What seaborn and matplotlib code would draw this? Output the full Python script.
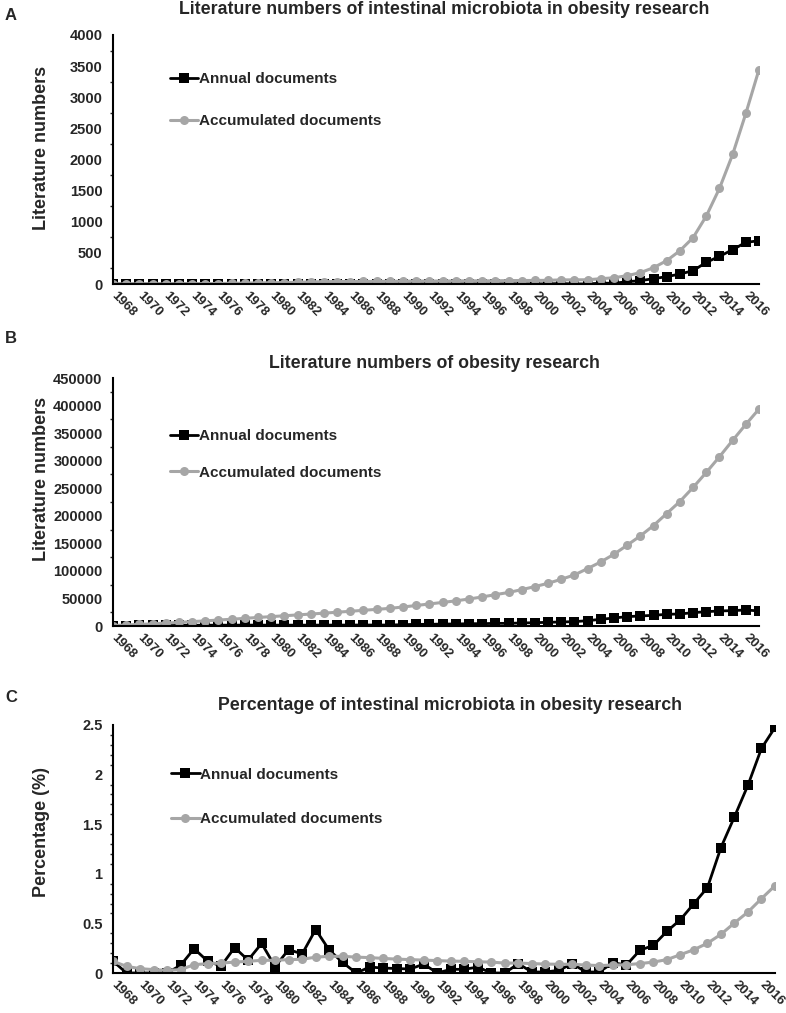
import numpy as np
import pandas as pd
import seaborn as sns
from matplotlib import pyplot as plt
from matplotlib.ticker import MultipleLocator, FuncFormatter

sns.set_style('white')
plt.rcParams['font.family'] = ['Liberation Sans', 'DejaVu Sans']
plt.rcParams['font.weight'] = 'bold'

# 50 categories; the axis labels every second year, the last point has no label
years = list(range(1968, 2018))

# panel A: intestinal microbiota in obesity research
micro_annual = [1, 0, 0, 0, 0, 1, 3, 2, 1, 4, 2, 5, 1, 4, 3, 7, 4, 2, 0, 1,
                1, 1, 1, 3, 0, 1, 1, 2, 0, 0, 4, 1, 1, 2, 7, 1, 1, 13, 12, 37,
                53, 86, 118, 160, 214, 348, 444, 551, 669, 695]
micro_accum = [1, 1, 1, 1, 1, 2, 5, 7, 8, 12, 14, 19, 20, 24, 27, 34, 38, 40, 40, 41,
               42, 43, 44, 47, 47, 48, 49, 51, 51, 51, 55, 56, 57, 59, 66, 67, 68, 85, 100, 134,
               182, 262, 375, 535, 744, 1091, 1535, 2081, 2739, 3445]

# panel B: obesity research
obes_annual = [900, 900, 1100, 1100, 1200, 1300, 1400, 1400, 1500, 1500, 1600, 1600, 1500,
               1600, 1500, 1600, 1600, 1700, 1700, 1800, 1700, 1800, 2400, 3000, 3000, 3600,
               3600, 4200, 4200, 4800, 4800, 5500, 6000, 6700, 7300, 7900, 9700, 12100, 14500,
               17000, 18200, 19400, 21200, 21800, 24200, 26000, 27300, 27900, 29100, 27300]
obes_accum = [900, 1800, 2900, 4000, 5200, 6500, 7900, 9300, 10800, 12300, 13900, 15500, 17000,
              18600, 20100, 21700, 23300, 25000, 26700, 28500, 30200, 32000, 34500, 37200, 40000,
              42800, 45600, 49000, 52700, 56900, 60800, 66000, 71500, 77500, 84800, 92700, 104200,
              116300, 130200, 146600, 163500, 182300, 204100, 225900, 251400, 278600, 307100,
              336800, 365800, 393700]

# panel C: percentage (%)
pct_annual = [0.12, 0, 0, 0, 0, 0.077, 0.245, 0.12, 0.07, 0.256, 0.13, 0.298, 0.065, 0.236,
              0.192, 0.438, 0.232, 0.106, 0, 0.06, 0.05, 0.045, 0.04, 0.09, 0, 0.037, 0.037,
              0.06, 0, 0, 0.094, 0.01, 0.01, 0.027, 0.094, 0.01, 0.01, 0.104, 0.08, 0.229,
              0.279, 0.42, 0.538, 0.70, 0.861, 1.265, 1.575, 1.894, 2.265, 2.475]
pct_accum = [0.118, 0.067, 0.044, 0.034, 0.027, 0.034, 0.084, 0.094, 0.10, 0.11, 0.118, 0.128,
             0.128, 0.135, 0.138, 0.16, 0.168, 0.168, 0.16, 0.155, 0.147, 0.14, 0.135, 0.13,
             0.125, 0.12, 0.118, 0.113, 0.11, 0.10, 0.10, 0.095, 0.09, 0.088, 0.088, 0.08, 0.075,
             0.08, 0.083, 0.095, 0.11, 0.135, 0.185, 0.235, 0.30, 0.39, 0.505, 0.615, 0.75, 0.88]

titles = ['Literature numbers of intestinal microbiota in obesity research',
          'Literature numbers of obesity research',
          'Percentage of intestinal microbiota in obesity research']
ylabels = ['Literature numbers', 'Literature numbers', 'Percentage (%)']
letters = ['A', 'B', 'C']

W, H = 786, 1013
fig = plt.figure(figsize=(W / 100, H / 100), dpi=100)

# pixel boxes: left, right, top, bottom
boxes = [(113, 759, 35, 284), (113, 759, 378, 626), (113, 775, 725, 973)]
ylims = [(4000, 500, 250), (450000, 50000, 25000), (2.5, 0.5, 0.1)]
legpos = [(0.088, 0.85, 1.8), (0.088, 0.793, 1.47), (0.088, 0.828, 2.0)]
ylab_y = [0.548, 0.593, 0.569]
letter_y = [15, 338, 697]
title_y = [10, 363, 705]
title_x = [444, 434, 450]

gray = '#a6a6a6'
series = [(micro_annual, micro_accum), (obes_annual, obes_accum), (pct_annual, pct_accum)]

for i, (ann, acc) in enumerate(series):
    l, r, t, b = boxes[i]
    ax = fig.add_axes([l / W, 1 - b / H, (r - l) / W, (b - t) / H])
    df = pd.DataFrame({'idx': np.arange(len(years)), 'year': years,
                       'Annual documents': ann, 'Accumulated documents': acc})
    sns.lineplot(data=df, x='idx', y='Annual documents', ax=ax, color='black',
                 lw=2, marker='s', markersize=6.5, markeredgewidth=0,
                 label='Annual documents')
    sns.lineplot(data=df, x='idx', y='Accumulated documents', ax=ax, color=gray,
                 lw=2.2, marker='o', markersize=6.5, markeredgewidth=0,
                 label='Accumulated documents')
    ymax, major, minor = ylims[i]
    ax.set_ylim(0, ymax)
    ax.set_xlim(0, len(years) - 1)
    ax.yaxis.set_major_locator(MultipleLocator(major))
    ax.yaxis.set_minor_locator(MultipleLocator(minor))
    ax.yaxis.set_major_formatter(FuncFormatter(lambda v, p: '%g' % v))
    ax.set_xticks(df['idx'])
    ax.set_xticklabels([str(y) if (y - 1968) % 2 == 0 and y <= 2016 else '' for y in years])
    for lab in ax.get_xticklabels():
        lab.set_rotation(-45)
        lab.set_ha('left')
        lab.set_va('center')
        lab.set_rotation_mode('anchor')
    ax.tick_params(axis='x', direction='out', length=4, width=1.2, labelsize=9.5, pad=3)
    ax.tick_params(axis='y', which='major', direction='out', length=4, width=1.2, labelsize=10.5)
    ax.tick_params(axis='y', which='minor', direction='out', length=2.5, width=1, left=True)
    for s in ['top', 'right']:
        ax.spines[s].set_visible(False)
    for s in ['left', 'bottom']:
        ax.spines[s].set_linewidth(1.5)
        ax.spines[s].set_color('black')
    ax.set_xlabel('')
    ax.set_ylabel(ylabels[i], fontsize=13, fontweight='bold')
    ax.yaxis.set_label_coords((50 - l) / (r - l), ylab_y[i])
    lx, ly, sp = legpos[i]
    ax.legend(loc='upper left', bbox_to_anchor=(lx, ly), frameon=False,
              handlelength=1.85, handletextpad=0.05, labelspacing=sp,
              prop={'size': 11, 'weight': 'bold'}, borderaxespad=0, borderpad=0)
    ax.set_title('')
    fig.text(title_x[i] / W, 1 - title_y[i] / H, titles[i], ha='center', va='center',
             fontsize=12.8, fontweight='bold')
    fig.text(5 / W, 1 - letter_y[i] / H, letters[i], ha='left', va='center',
             fontsize=12, fontweight='bold')

fig.savefig('out.png', dpi=100)
